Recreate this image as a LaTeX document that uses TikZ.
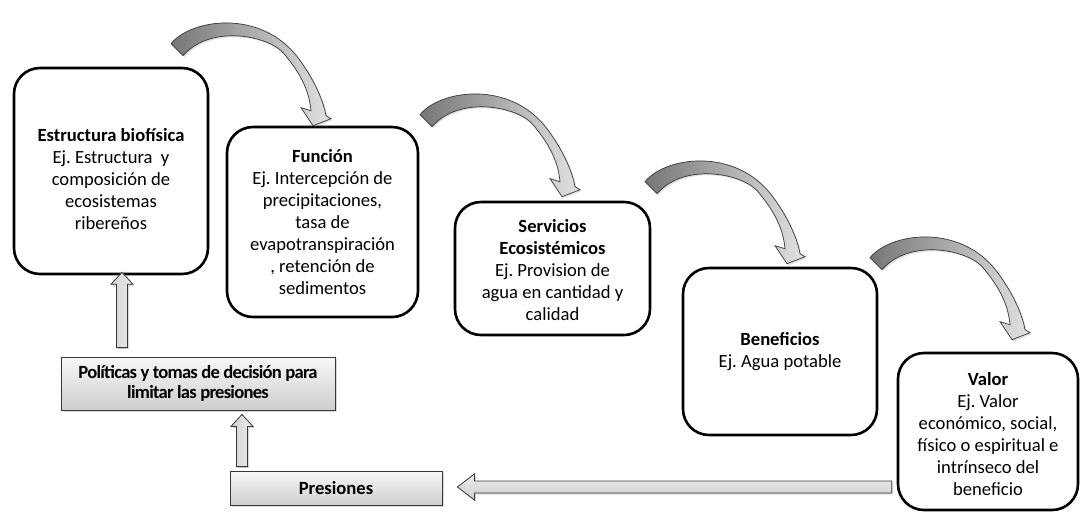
\documentclass[tikz,border=0pt]{standalone}
\usepackage{fontspec}
\setmainfont{Carlito}
\usetikzlibrary{calc,shadows}
\definecolor{arrdark}{RGB}{118,118,118}
\definecolor{arrlight}{RGB}{226,226,226}
\definecolor{edgegray}{RGB}{55,55,55}
\frenchspacing
\begin{document}
\begin{tikzpicture}[x=1pt,y=-1pt,
  box/.style={draw=black, line width=2.6pt, rounded corners=26pt, fill=white, inner sep=0pt},
  txt/.style={align=center, font=\fontsize{18.6}{22}\selectfont, inner sep=0pt},
  gbox/.style={draw=edgegray, line width=0.8pt, top color=gray!6, bottom color=gray!38,
    drop shadow={opacity=0.3, shadow xshift=2pt, shadow yshift=-2pt},
    inner sep=0pt, align=center, font=\bfseries\fontsize{18.6}{20.5}\selectfont},
  blockarr/.style={draw=edgegray, line width=0.8pt, left color=gray!35, right color=gray!15,
    drop shadow={opacity=0.3, shadow xshift=1.5pt, shadow yshift=-1.5pt}},
  curved/.style={draw=edgegray, line width=0.7pt, left color=arrdark, right color=arrlight,
    drop shadow={opacity=0.25, shadow xshift=1.5pt, shadow yshift=-1.5pt}},
  curvarr/.pic={\path[curved] (-142,-82) .. controls (-122,-107) and (-52,-117) .. (-15,-68)
      .. controls (3,-44) and (11,-22) .. (13,-10) -- (18,-7) -- (0,0) -- (-12,-18) -- (-2,-15)
      .. controls (-4,-37) and (-14,-54) .. (-29,-72)
      .. controls (-44,-90) and (-102,-102) .. (-130,-70) -- cycle;}
]
\useasboundingbox (0,0) rectangle (1081,512);
\fill[white] (0,0) rectangle (1081,512);

% main boxes
\node[box, minimum width=194pt, minimum height=206pt] (est) at (111,171) {};
\node[box, minimum width=191pt, minimum height=190pt] (fun) at (322.5,222) {};
\node[box, minimum width=195pt, minimum height=133pt] (ser) at (552.5,268.5) {};
\node[box, minimum width=194pt, minimum height=167pt] (ben) at (780,351.5) {};
\node[box, minimum width=180pt, minimum height=157pt] (val) at (988,431.5) {};

\node[txt] (est-t) at (111,179) {\textbf{Estructura biofísica}\\Ej. Estructura~ y\\composición de\\ecosistemas\\ribereños};
\node[txt] (fun-t) at (322.5,222) {\textbf{Función}\\Ej. Intercepción de\\precipitaciones,\\tasa de\\evapotranspiración\\, retención de\\sedimentos};
\node[txt] (ser-t) at (552.5,270) {\textbf{Servicios}\\\textbf{Ecosistémicos}\\Ej. Provision de\\agua en cantidad y\\calidad};
\node[txt] (ben-t) at (780,352) {\textbf{Beneficios}\\Ej. Agua potable};
\node[txt] (val-t) at (988,434) {\textbf{Valor}\\Ej. Valor\\económico, social,\\físico o espiritual e\\intrínseco del\\beneficio};

% gray boxes
\node[gbox, minimum width=274pt, minimum height=53pt] (pol) at (198,383.5)
  {\addfontfeatures{LetterSpace=-4}Políticas y tomas de decisión para\\\addfontfeatures{LetterSpace=-4}limitar las presiones};
\node[gbox, minimum width=212pt, minimum height=34pt] (pre) at (336,488) {Presiones};

% curved arrows
\pic at ($(fun.north)+(-9.5,0)$) {curvarr};
\pic at ($(ser.north)+(9.5,-4)$) {curvarr};
\pic at ($(ben.north)+(7,-3)$) {curvarr};
\pic at ($(val.north)+(24,-12)$) {curvarr};

% straight block arrows
\coordinate (a1b) at ($(pol.north)+(-76,-9)$);
\coordinate (a1t) at ($(est.south)+(11,-3)$);
\coordinate (a2b) at ($(pre.north)+(-94,-4)$);
\coordinate (a2t) at ($(pol.south)+(44,4)$);
\coordinate (a3b) at ($(pre.east -| val.west)+(-5,-1)$);
\coordinate (a3t) at ($(pre.east)+(15,-1)$);

\path[blockarr] let \p1=(a1b), \p2=(a1t) in
  (\x1-5.5pt,\y1) -- (\x1-5.5pt,\y2-12pt) -- (\x1-11pt,\y2-12pt) -- (\x1,\y2)
  -- (\x1+11pt,\y2-12pt) -- (\x1+5.5pt,\y2-12pt) -- (\x1+5.5pt,\y1) -- cycle;
\path[blockarr] let \p1=(a2b), \p2=(a2t) in
  (\x1-5.5pt,\y1) -- (\x1-5.5pt,\y2-12pt) -- (\x1-11pt,\y2-12pt) -- (\x1,\y2)
  -- (\x1+11pt,\y2-12pt) -- (\x1+5.5pt,\y2-12pt) -- (\x1+5.5pt,\y1) -- cycle;
\path[blockarr, top color=gray!15, bottom color=gray!38] let \p1=(a3b), \p2=(a3t) in
  (\x1,\y1+6pt) -- (\x2+17pt,\y1+6pt) -- (\x2+17pt,\y1+13pt) -- (\x2,\y1)
  -- (\x2+17pt,\y1-13pt) -- (\x2+17pt,\y1-6pt) -- (\x1,\y1-6pt) -- cycle;
\end{tikzpicture}
\end{document}
